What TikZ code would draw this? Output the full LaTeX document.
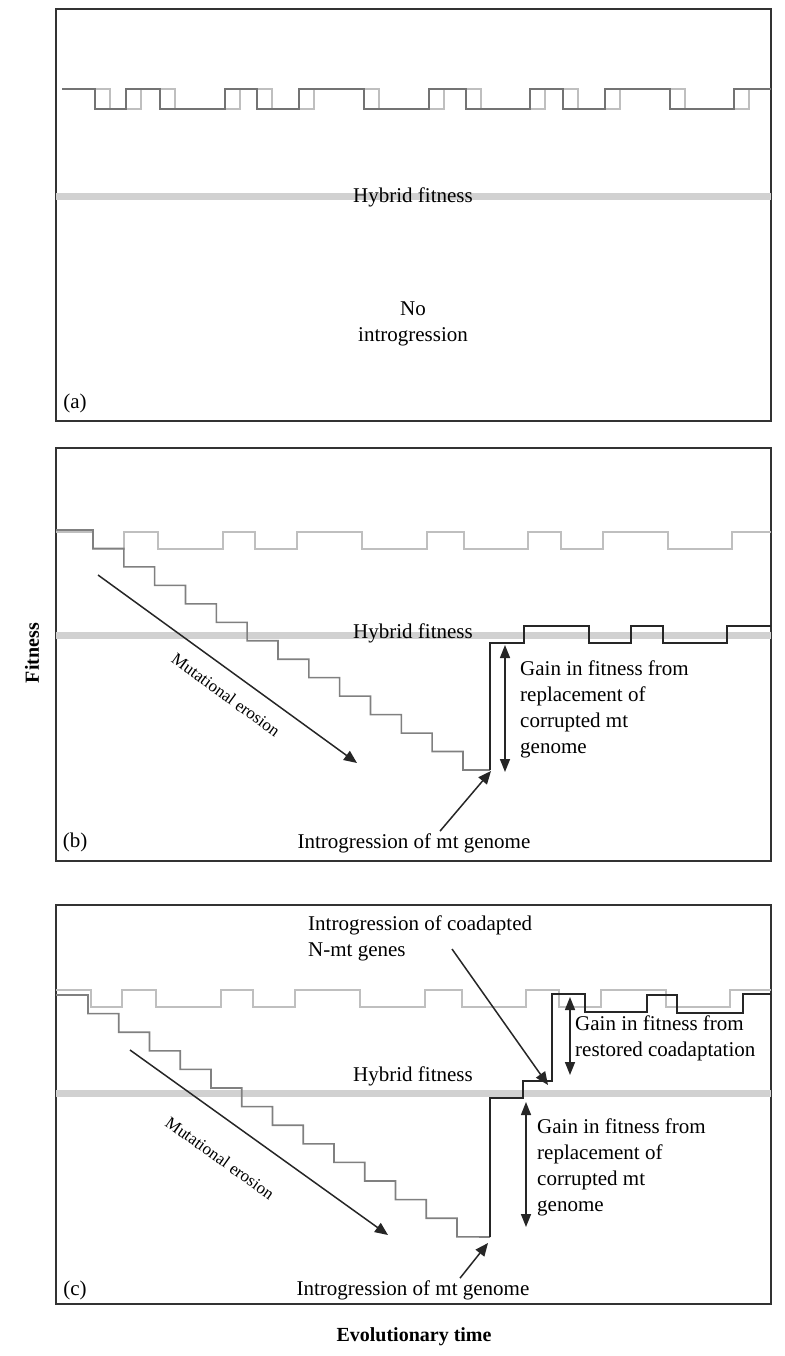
\documentclass[tikz,border=0pt]{standalone}
\usepackage{fontspec}
\setmainfont{Liberation Serif}
\usetikzlibrary{arrows.meta}

% parental fitness trace: style, x shift, top y, bottom y, start x
\newcommand{\parentsteps}[5]{%
  \draw[#1] (#5,#3)
    \foreach \d/\r in {93/124,158/223,255/297,362/427,464/528,561/603,668/732}
      { -- ({\d+#2},#3) -- ({\d+#2},#4) -- ({\r+#2},#4) -- ({\r+#2},#3) }
    -- (771,#3);
}

\begin{document}
\begin{tikzpicture}[x=1pt,y=-1pt,line join=miter,
  every node/.style={inner sep=0pt,font=\fontsize{21}{26}\selectfont},
  small/.style={font=\fontsize{17}{20}\selectfont},
  axislab/.style={font=\fontsize{20}{24}\selectfont\bfseries},
  panel/.style={draw=black!80,line width=1.8pt},
  band/.style={fill=black!18},
  parentdark/.style={draw=black!55,line width=1.5pt},
  parentlight/.style={draw=black!25,line width=1.5pt},
  erosion/.style={draw=black!50,line width=1.6pt},
  restored/.style={draw=black!85,line width=1.6pt},
  pointer/.style={draw=black!85,line width=1.5pt,-{Triangle[length=13pt,width=11pt]}},
  span/.style={draw=black!85,line width=1.5pt,
    {Triangle[length=13pt,width=10pt]}-{Triangle[length=13pt,width=10pt]}}]
  \useasboundingbox (0,0) rectangle (784,1356);

  % ---- panel (a): no introgression ----
  \draw[panel] (56,9) rectangle (771,421);
  \fill[band] (56,193.5) rectangle (771,200.5);
  \parentsteps{parentlight}{17}{89}{109}{62}
  \parentsteps{parentdark}{2}{89}{109}{62}
  \node (hybA) at (413,197) {Hybrid fitness};
  \node[align=center] (noIntro) at (413,324) {No\\introgression};
  \node (labA) at (75,403) {(a)};

  % ---- panel (b): mt genome introgression ----
  \draw[panel] (56,448) rectangle (771,861);
  \fill[band] (56,631.5) rectangle (771,638.5);
  \parentsteps{parentlight}{0}{532}{549}{56}
  % mutational erosion staircase
  \draw[erosion] (56,530)
    \foreach \k in {0,...,12} { -- ({93+30.83*\k},{530+18.46*\k}) -- ({93+30.83*\k},{530+18.46*(\k+1)}) }
    -- (490,770);
  \coordinate (botB) at (490,770);
  \draw[restored] (botB) -- (490,643) -- (524,643) -- (524,626) -- (589,626) -- (589,643)
    -- (631,643) -- (631,626) -- (663,626) -- (663,643) -- (727,643) -- (727,626) -- (771,626);
  \node (hybB) at (413,633) {Hybrid fitness};
  \coordinate (erosB-s) at (98,575);
  \coordinate (erosB-e) at (357,763);
  \draw[pointer] (erosB-s) -- (erosB-e);
  \node[small,rotate=-36] (erosB) at (226,695) {Mutational erosion};
  \coordinate (gainB-t) at (505,645);
  \coordinate (gainB-b) at (505,772);
  \draw[span] (gainB-t) -- (gainB-b);
  \node[anchor=north west,align=left] (gainB) at (520,661)
    {Gain in fitness from\\replacement of\\corrupted mt\\genome};
  \node (introB) at (414,843) {Introgression of mt genome};
  \coordinate (introB-tip) at (491,771);
  \draw[pointer] ([xshift=26pt,yshift=2pt]introB.north) -- (introB-tip);
  \node (labB) at (75,842) {(b)};

  % ---- panel (c): mt genome then coadapted N-mt genes ----
  \draw[panel] (56,905) rectangle (771,1304);
  \fill[band] (56,1089.5) rectangle (771,1096.5);
  \parentsteps{parentlight}{-2}{990}{1007}{56}
  \draw[erosion] (56,995)
    \foreach \k in {0,...,12} { -- ({88+30.75*\k},{995+18.6*\k}) -- ({88+30.75*\k},{995+18.6*(\k+1)}) }
    -- (490,1237);
  \coordinate (botC) at (490,1237);
  \draw[restored] (botC) -- (490,1098) -- (523,1098) -- (523,1081) -- (552,1081) -- (552,994)
    -- (585,994) -- (585,1012) -- (647,1012) -- (647,995) -- (677,995) -- (677,1013)
    -- (743,1013) -- (743,994) -- (771,994);
  \node (hybC) at (413,1076) {Hybrid fitness};
  \coordinate (erosC-s) at (130,1050);
  \coordinate (erosC-e) at (388,1235);
  \draw[pointer] (erosC-s) -- (erosC-e);
  \node[small,rotate=-35.6] (erosC) at (220,1158) {Mutational erosion};
  \node[anchor=north west,align=left] (coadC) at (308,916)
    {Introgression of coadapted\\N-mt genes};
  \coordinate (coadC-s) at (452,949);
  \coordinate (coadC-tip) at (548,1085);
  \draw[pointer] (coadC-s) -- (coadC-tip);
  \coordinate (restC-t) at (570,997);
  \coordinate (restC-b) at (570,1075);
  \draw[span] (restC-t) -- (restC-b);
  \node[anchor=north west,align=left] (restC) at (575,1016)
    {Gain in fitness from\\restored coadaptation};
  \coordinate (gainC-t) at (526,1102);
  \coordinate (gainC-b) at (526,1227);
  \draw[span] (gainC-t) -- (gainC-b);
  \node[anchor=north west,align=left] (gainC) at (537,1118)
    {Gain in fitness from\\replacement of\\corrupted mt\\genome};
  \node (introC) at (413,1290) {Introgression of mt genome};
  \coordinate (introC-tip) at (488,1243);
  \draw[pointer] ([xshift=47pt,yshift=2pt]introC.north) -- (introC-tip);
  \node (labC) at (75,1290) {(c)};

  % ---- axis titles ----
  \node[axislab,rotate=90] (fitLab) at (32,653) {Fitness};
  \node[axislab] (timeLab) at (414,1337) {Evolutionary time};
\end{tikzpicture}
\end{document}
